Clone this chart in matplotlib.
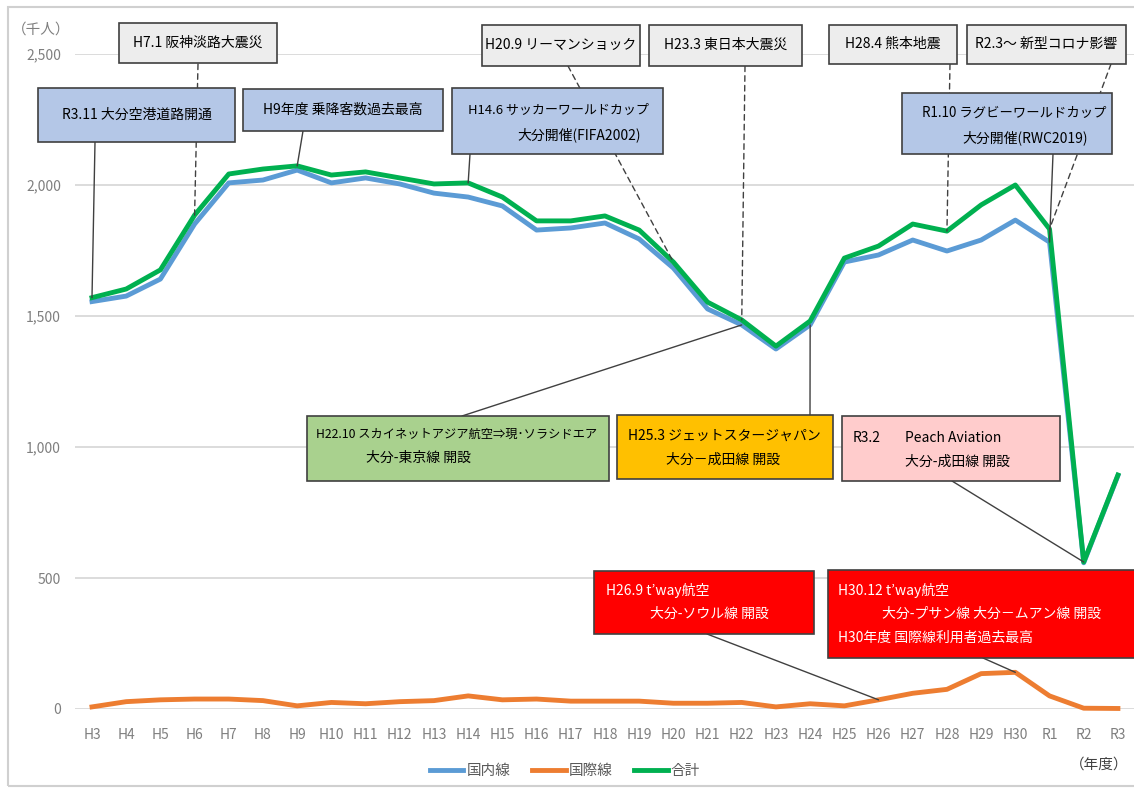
import matplotlib
matplotlib.use("Agg")
import matplotlib.pyplot as plt
from matplotlib.patches import Rectangle, ConnectionPatch

plt.rcParams['font.family'] = ['Noto Sans CJK JP', 'DejaVu Sans']

# fiscal years
years = ['H3', 'H4', 'H5', 'H6', 'H7', 'H8', 'H9', 'H10', 'H11', 'H12', 'H13', 'H14',
         'H15', 'H16', 'H17', 'H18', 'H19', 'H20', 'H21', 'H22', 'H23', 'H24', 'H25',
         'H26', 'H27', 'H28', 'H29', 'H30', 'R1', 'R2', 'R3']

# passengers (thousand)
domestic = [1555, 1576, 1641, 1851, 2008, 2019, 2057, 2008, 2027, 2004, 1969, 1954,
            1920, 1828, 1836, 1855, 1794, 1683, 1527, 1466, 1374, 1466, 1706,
            1733, 1790, 1748, 1790, 1866, 1782, 558, 891]
international = [8, 28, 35, 38, 38, 32, 12, 25, 20, 28, 32, 50,
                 35, 38, 30, 30, 30, 22, 22, 25, 8, 20, 12,
                 35, 60, 75, 135, 140, 50, 3, 2]
total = [1570, 1603, 1676, 1885, 2042, 2061, 2073, 2038, 2050, 2027, 2004, 2008,
         1954, 1863, 1863, 1882, 1828, 1706, 1553, 1485, 1385, 1481, 1721,
         1767, 1851, 1824, 1924, 2000, 1832, 561, 893]

W, H = 1134, 789
fig = plt.figure(figsize=(W / 100, H / 100), dpi=100)
ax = fig.add_axes([75 / W, 1 - 709 / H, (W - 75) / W, (709 - 54) / H])

x = list(range(len(years)))
ax.plot(x, domestic, color='#5b9bd5', lw=3.5, label='国内線', clip_on=False, zorder=3)
ax.plot(x, international, color='#ed7d31', lw=3.5, label='国際線', clip_on=False, zorder=3)
ax.plot(x, total, color='#00b050', lw=3.5, label='合計', clip_on=False, zorder=4)

ax.set_xlim(-0.497, 30.47)
ax.set_ylim(0, 2500)
ax.set_yticks([0, 500, 1000, 1500, 2000, 2500])
ax.set_yticklabels(['0', '500', '1,000', '1,500', '2,000', '2,500'])
ax.set_xticks(x)
ax.set_xticklabels(years)
ax.tick_params(length=0, labelcolor='#7f7f7f', labelsize=10)
ax.tick_params(axis='y', pad=10)
ax.tick_params(axis='x', pad=14)
ax.grid(axis='y', color='#d9d9d9', lw=1.3)
ax.set_axisbelow(True)
for s in ax.spines.values():
    s.set_visible(False)

# outer frame
fig.add_artist(Rectangle((8 / W, 1 - 786 / H), 1.2, (786 - 7) / H, transform=fig.transFigure,
                         fill=False, edgecolor='#d0d0d0', lw=1.5))

fig.text(12 / W, 1 - 30 / H, '（千人）', color='#7f7f7f', fontsize=10.5, va='center')
fig.text(1128 / W, 1 - 765 / H, '（年度）', color='#404040', fontsize=10.5, va='center', ha='right')

fig.legend(loc='center', bbox_to_anchor=(565 / W, 1 - 771 / H), ncol=3, frameon=False,
           fontsize=10.5, handlelength=2.3, handletextpad=0.2, columnspacing=1.5,
           labelcolor='#595959')

# annotation boxes: (left, top, right, bottom) in px, fill, text color, lines
boxes = [
    ((119, 23, 277, 63), '#ededed', 'black', [('H7.1 阪神淡路大震災', None, 43, 10)]),
    ((38, 88, 235, 142), '#b4c7e7', 'black', [('R3.11 大分空港道路開通', None, 115, 10)]),
    ((243, 89, 443, 131), '#b4c7e7', 'black', [('H9年度 乗降客数過去最高', None, 110, 10)]),
    ((452, 88, 663, 154), '#b4c7e7', 'black', [('H14.6 サッカーワールドカップ', 468, 110, 9.4),
                                               ('大分開催(FIFA2002)', 517, 135, 10)]),
    ((482, 25, 640, 66), '#ededed', 'black', [('H20.9 リーマンショック', None, 45, 10)]),
    ((649, 25, 802, 66), '#ededed', 'black', [('H23.3 東日本大震災', None, 45, 10)]),
    ((829, 25, 957, 64), '#ededed', 'black', [('H28.4 熊本地震', None, 44, 10)]),
    ((967, 25, 1126, 64), '#ededed', 'black', [('R2.3～ 新型コロナ影響', None, 44, 10)]),
    ((902, 93, 1112, 154), '#b4c7e7', 'black', [('R1.10 ラグビーワールドカップ', 922, 113, 9.6),
                                                ('大分開催(RWC2019)', 962, 138, 10)]),
    ((307, 416, 609, 481), '#a9d18e', 'black', [('H22.10 スカイネットアジア航空⇒現･ソラシドエア', 316, 434, 8.8),
                                                ('大分-東京線 開設', 366, 458, 10)]),
    ((617, 415, 833, 479), '#ffc000', 'black', [('H25.3 ジェットスタージャパン', 628, 436, 10),
                                                ('大分－成田線 開設', 666, 460, 10)]),
    ((842, 416, 1060, 481), '#ffcccc', 'black', [('R3.2', 853, 438, 10), ('Peach Aviation', 905, 438, 10),
                                                 ('大分-成田線 開設', 905, 462, 10)]),
    ((594, 571, 814, 634), '#ff0000', 'white', [('H26.9 t’way航空', 606, 590, 10),
                                               ('大分-ソウル線 開設', 650, 614, 10)]),
    ((828, 570, 1140, 658), '#ff0000', 'white', [('H30.12 t’way航空', 838, 590, 10),
                                                ('大分-プサン線 大分－ムアン線 開設', 882, 614, 10),
                                                ('H30年度 国際線利用者過去最高', 838, 638, 10)]),
]

# connectors: start px on box, target (index, series), dashed?
links = [
    ((198, 64), (3, total[3]), True),
    ((95, 142), (0, total[0]), False),
    ((303, 131), (6, total[6]), False),
    ((470, 154), (11, total[11]), False),
    ((568, 66), (17, total[17]), True),
    ((745, 66), (19, total[19]), True),
    ((950, 64), (25, total[25]), True),
    ((1111, 64), (28, total[28]), True),
    ((1053, 154), (28, domestic[28]), False),
    ((462, 416), (19, domestic[19]), False),
    ((810, 415), (21, domestic[21]), False),
    ((952, 481), (29, total[29]), False),
    ((707, 634), (23, international[23]), False),
    ((983, 658), (27, international[27]), False),
]

for (px, py), (xi, yv), dashed in links:
    con = ConnectionPatch(xyA=(px / W, 1 - py / H), coordsA=fig.transFigure,
                          xyB=(xi, yv), coordsB=ax.transData,
                          color='#404040', lw=1.0, ls=(0, (4, 3)) if dashed else '-', zorder=5)
    fig.add_artist(con)

for (l, t, r, b), fc, tc, lines in boxes:
    fig.add_artist(Rectangle((l / W, 1 - b / H), (r - l) / W, (b - t) / H, transform=fig.transFigure,
                             facecolor=fc, edgecolor='#404040', lw=1.2, zorder=6))
    for txt, tx, ty, fs in lines:
        if tx is None:
            fig.text((l + r) / 2 / W, 1 - ty / H, txt, ha='center', va='center', fontsize=fs,
                     color=tc, zorder=7)
        else:
            fig.text(tx / W, 1 - ty / H, txt, ha='left', va='center', fontsize=fs,
                     color=tc, zorder=7)

fig.savefig('out.png', dpi=100)
